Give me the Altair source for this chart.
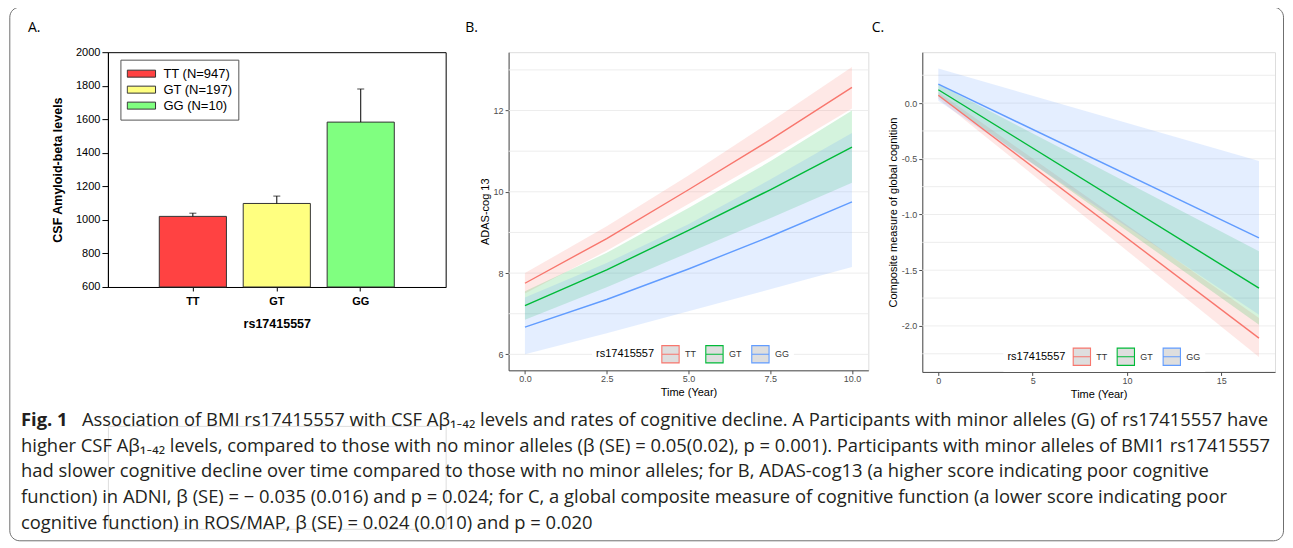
import altair as alt
import pandas as pd

# ---------------- Panel A data ----------------
a_genotypes = ["TT", "GT", "GG"]
a_counts = [947, 197, 10]
a_means = [1021, 1098, 1583]
a_upper = [1040, 1142, 1780]
a_colors = ["#ff4242", "#ffff80", "#80ff80"]
a_ticks = [600, 800, 1000, 1200, 1400, 1600, 1800, 2000]

# ---------------- Panel B data (ADAS-cog 13) ----------------
b_time = [0, 2.5, 5, 7.5, 10]
b_tt_fit = [7.75, 8.85, 10.05, 11.28, 12.57]
b_tt_lo = [7.50, 8.55, 9.70, 10.85, 12.05]
b_tt_hi = [8.00, 9.15, 10.40, 11.72, 13.07]
b_gt_fit = [7.20, 8.08, 9.05, 10.05, 11.10]
b_gt_lo = [6.85, 7.65, 8.50, 9.35, 10.22]
b_gt_hi = [7.55, 8.50, 9.60, 10.75, 12.00]
b_gg_fit = [6.67, 7.35, 8.10, 8.90, 9.75]
b_gg_lo = [6.00, 6.52, 7.06, 7.60, 8.15]
b_gg_hi = [7.40, 8.25, 9.20, 10.30, 11.45]
b_grid = [6, 7, 8, 9, 10, 11, 12, 13]
b_yticks = [6, 8, 10, 12]
b_xticks = [0, 2.5, 5, 7.5, 10]

# ---------------- Panel C data (global cognition) ----------------
c_time = [0, 17]
c_tt_fit = [0.07, -2.11]
c_tt_lo = [0.04, -2.28]
c_tt_hi = [0.10, -1.93]
c_gt_fit = [0.12, -1.66]
c_gt_lo = [0.06, -1.99]
c_gt_hi = [0.17, -1.33]
c_gg_fit = [0.17, -1.21]
c_gg_lo = [0.02, -1.90]
c_gg_hi = [0.31, -0.52]
c_grid = [0.25, 0.0, -0.25, -0.5, -0.75, -1.0, -1.25, -1.5, -1.75, -2.0, -2.25]
c_yticks = [0.0, -0.5, -1.0, -1.5, -2.0]
c_xticks = [0, 5, 10, 15]

gg_colors = ["#F8766D", "#00BA38", "#619CFF"]

# ---------------- Caption ----------------
cap_fig = "Fig. 1"
cap_lines = [
    "Association of BMI rs17415557 with CSF A\u03b2\u2081\u208b\u2084\u2082 levels and rates of cognitive decline. A Participants with minor alleles (G) of rs17415557 have",
    "higher CSF A\u03b2\u2081\u208b\u2084\u2082 levels, compared to those with no minor alleles (\u03b2 (SE) = 0.05(0.02), p = 0.001). Participants with minor alleles of BMI1 rs17415557",
    "had slower cognitive decline over time compared to those with no minor alleles; for B, ADAS-cog13 (a higher score indicating poor cognitive",
    "function) in ADNI, \u03b2 (SE) = \u2212 0.035 (0.016) and p = 0.024; for C, a global composite measure of cognitive function (a lower score indicating poor",
    "cognitive function) in ROS/MAP, \u03b2 (SE) = 0.024 (0.010) and p = 0.020",
]

FONT = "Liberation Sans, Arial, sans-serif"
CAPFONT = "Open Sans, Lato, sans-serif"
CAPSIZE = 18.4

# =============== Panel A ===============
df_a = pd.DataFrame({"g": a_genotypes, "mean": a_means, "upper": a_upper, "n": a_counts})
lab_expr = " : ".join(
    f"datum.label == '{g}' ? '{g} (N={n})'" for g, n in zip(a_genotypes, a_counts)
) + " : datum.label"

xA = alt.X(
    "g:N", sort=a_genotypes,
    scale=alt.Scale(paddingInner=0.2, paddingOuter=0.612),
    axis=alt.Axis(title="rs17415557", labelAngle=0, labelFontWeight="bold", labelFontSize=11,
                  titleFontSize=12.5, titleFontWeight="bold", tickSize=4, labelPadding=5,
                  titlePadding=11, domainColor="black", tickColor="black", labelColor="black",
                  titleColor="black", labelFont=FONT, titleFont=FONT),
)
yA_axis = alt.Axis(values=a_ticks, format="d", title="CSF Amyloid-beta levels", grid=False,
                   labelFontSize=11, tickSize=6, labelPadding=2, titlePadding=11,
                   titleFontSize=12.5, titleFontWeight="bold", domainColor="black",
                   tickColor="black", labelColor="black", titleColor="black",
                   labelFont=FONT, titleFont=FONT)
yA_scale = alt.Scale(domain=[a_ticks[0], a_ticks[-1]], nice=False, zero=False)

bars = alt.Chart(df_a).mark_bar(stroke="#333333", strokeWidth=1).encode(
    x=xA,
    y=alt.Y("mean:Q", scale=yA_scale, axis=yA_axis),
    y2=alt.datum(a_ticks[0]),
    color=alt.Color(
        "g:N", sort=a_genotypes,
        scale=alt.Scale(domain=a_genotypes, range=a_colors),
        legend=alt.Legend(title=None, orient="none", legendX=12.5, legendY=7.5, direction="vertical",
                          labelExpr=lab_expr,
                          symbolType="M-1,-0.247H1V0.247H-1Z", symbolSize=801,
                          symbolStrokeColor="#333333", symbolStrokeWidth=1, clipHeight=16,
                          rowPadding=0, labelOffset=7, labelFontSize=13, labelFont=FONT,
                          labelColor="black", padding=6, strokeColor="#555555",
                          fillColor="white"),
    ),
)
err = alt.Chart(df_a).mark_rule(color="black", strokeWidth=1).encode(
    x=alt.X("g:N", sort=a_genotypes),
    y=alt.Y("mean:Q", scale=yA_scale, axis=yA_axis),
    y2="upper:Q",
)
caps = alt.Chart(df_a).mark_tick(color="black", thickness=1, size=7, orient="horizontal").encode(
    x=alt.X("g:N", sort=a_genotypes),
    y=alt.Y("upper:Q", scale=yA_scale, axis=yA_axis),
)
chartA = alt.layer(bars, err, caps).properties(
    width=338, height=235,
    view=alt.ViewBackground(stroke="black", strokeWidth=1),
    title=alt.TitleParams("A.", anchor="start", frame="group", dx=-80, offset=0,
                          baseline="alphabetic", fontSize=14, fontWeight="normal",
                          font="Open Sans", color="black"),
)


# =============== Panels B & C helpers ===============
def build_df(times, series):
    rows = []
    for g, (fit, lo, hi) in series.items():
        for t, f, l, h in zip(times, fit, lo, hi):
            rows.append({"t": t, "g": g, "fit": f, "lo": l, "hi": h})
    return pd.DataFrame(rows)


def ribbon_panel(df, grid_vals, xdom, ydom, xticks, yticks, xfmt_expr, yfmt_expr, ytitle,
                 width, height, legx, legy, label, dx):
    xs = alt.Scale(domain=xdom, nice=False, zero=False)
    ys = alt.Scale(domain=ydom, nice=False, zero=False)
    axis_common = dict(grid=False, labelFontSize=9, labelColor="#4d4d4d", tickSize=3.5,
                       tickColor="#4d4d4d", domainColor="#4d4d4d",
                       titleFontSize=11, titleColor="black", titleFontWeight="normal",
                       labelFont=FONT, titleFont=FONT)
    xax = alt.Axis(values=xticks, labelExpr=xfmt_expr, title="Time (Year)", titlePadding=3,
                   labelPadding=1, **axis_common)
    yax = alt.Axis(values=yticks, labelExpr=yfmt_expr, title=ytitle, titlePadding=3,
                   labelPadding=2, **axis_common)
    gdf = pd.DataFrame({"v": grid_vals})
    grid = alt.Chart(gdf).mark_rule(color="#ebebeb", strokeWidth=0.9).encode(
        y=alt.Y("v:Q", scale=ys, axis=yax)
    )
    cscale = alt.Scale(domain=a_genotypes, range=gg_colors)
    area = alt.Chart(df).mark_area(opacity=0.17).encode(
        x=alt.X("t:Q", scale=xs, axis=xax),
        y=alt.Y("lo:Q", scale=ys, axis=yax),
        y2="hi:Q",
        fill=alt.Fill("g:N", scale=cscale, legend=None),
    )
    line = alt.Chart(df).mark_line(strokeWidth=1.4).encode(
        x=alt.X("t:Q", scale=xs, axis=xax),
        y=alt.Y("fit:Q", scale=ys, axis=yax),
        color=alt.Color(
            "g:N", scale=cscale,
            legend=alt.Legend(title="rs17415557", orient="none", legendX=legx, legendY=legy,
                              direction="horizontal", titleOrient="left", titleAnchor="middle",
                              titleBaseline="middle",
                              symbolType="M-1,-1H1V1H-1ZM-1,0H1", symbolSize=300,
                              symbolStrokeWidth=1.1, symbolFillColor="#dedede",
                              labelFontSize=9, labelColor="#333333", labelFont=FONT,
                              titleFontSize=11, titleFontWeight="normal", titleFont=FONT,
                              titleColor="black", titlePadding=6, labelOffset=5,
                              columnPadding=7, fillColor="white", padding=4),
        ),
    )
    return alt.layer(grid, area, line).properties(
        width=width, height=height,
        title=alt.TitleParams(label, anchor="start", frame="group", dx=dx, offset=6,
                              baseline="alphabetic", fontSize=14, fontWeight="normal",
                              font="Open Sans", color="black"),
    )


df_b = build_df(b_time, {"TT": (b_tt_fit, b_tt_lo, b_tt_hi),
                         "GT": (b_gt_fit, b_gt_lo, b_gt_hi),
                         "GG": (b_gg_fit, b_gg_lo, b_gg_hi)})
df_c = build_df(c_time, {"TT": (c_tt_fit, c_tt_lo, c_tt_hi),
                         "GT": (c_gt_fit, c_gt_lo, c_gt_hi),
                         "GG": (c_gg_fit, c_gg_lo, c_gg_hi)})

chartB = ribbon_panel(df_b, b_grid, [-0.5, 10.5], [5.607, 13.436], b_xticks, b_yticks,
                      "format(datum.value, '.1f')", "format(datum.value, 'd')",
                      "ADAS-cog 13", 360, 318.4, 83.5, 288.5, "B.", -43.3)
chartC = ribbon_panel(df_c, c_grid, [-0.85, 17.85], [-2.413, 0.457], c_xticks, c_yticks,
                      "format(datum.value, 'd')",
                      "replace(format(datum.value, '.1f'), '\u2212', '-')",
                      "Composite measure of global cognition", 353, 320, 81.2, 291, "C.", -50.6)


def spacer(w):
    return alt.Chart(pd.DataFrame({"s": [0]})).mark_point(opacity=0).properties(width=w, height=10)


# =============== Caption ===============
LINE_STEP = 25.75
cap_df = pd.DataFrame({"line": list(range(len(cap_lines))), "text": cap_lines})
fig_df = pd.DataFrame({"line": [0], "text": [cap_fig]})
ycap = alt.Y("line:O", axis=None,
             scale=alt.Scale(type="point", domain=list(range(len(cap_lines))), padding=0))
frame = alt.Chart(pd.DataFrame({"f": [0]})).mark_rect(
    fill="white", fillOpacity=0, stroke="#6e6e6e", strokeWidth=1, cornerRadius=10
).encode(x=alt.value(-98.2), x2=alt.value(1176.5), y=alt.value(-419), y2=alt.value(115))
fig_txt = alt.Chart(fig_df).mark_text(
    align="left", baseline="alphabetic", font=CAPFONT, fontSize=CAPSIZE, fontWeight="bold",
    color="#231f20"
).encode(x=alt.value(-87), y=ycap, text="text:N")
first_txt = alt.Chart(cap_df).transform_filter("datum.line == 0").mark_text(
    align="left", baseline="alphabetic", font=CAPFONT, fontSize=CAPSIZE, color="#231f20"
).encode(x=alt.value(-26), y=ycap, text="text:N")
rest_txt = alt.Chart(cap_df).transform_filter("datum.line > 0").mark_text(
    align="left", baseline="alphabetic", font=CAPFONT, fontSize=CAPSIZE, color="#231f20"
).encode(x=alt.value(-87), y=ycap, text="text:N")
caption = alt.layer(frame, fig_txt, first_txt, rest_txt).properties(
    width=338, height=LINE_STEP * (len(cap_lines) - 1)
)

chart = alt.concat(
    chartA, spacer(22.6), chartB, spacer(13.3), chartC, caption,
    columns=5, spacing=alt.RowColnumber(row=54, column=20), bounds="flush",
).resolve_scale(color="independent").resolve_legend(color="independent").properties(
    padding={"left": 0, "top": -2, "right": 0, "bottom": 0}
).configure_view(strokeWidth=0).configure(font=FONT)

chart.save("out.html", embed_options={"renderer": "svg", "actions": False})
